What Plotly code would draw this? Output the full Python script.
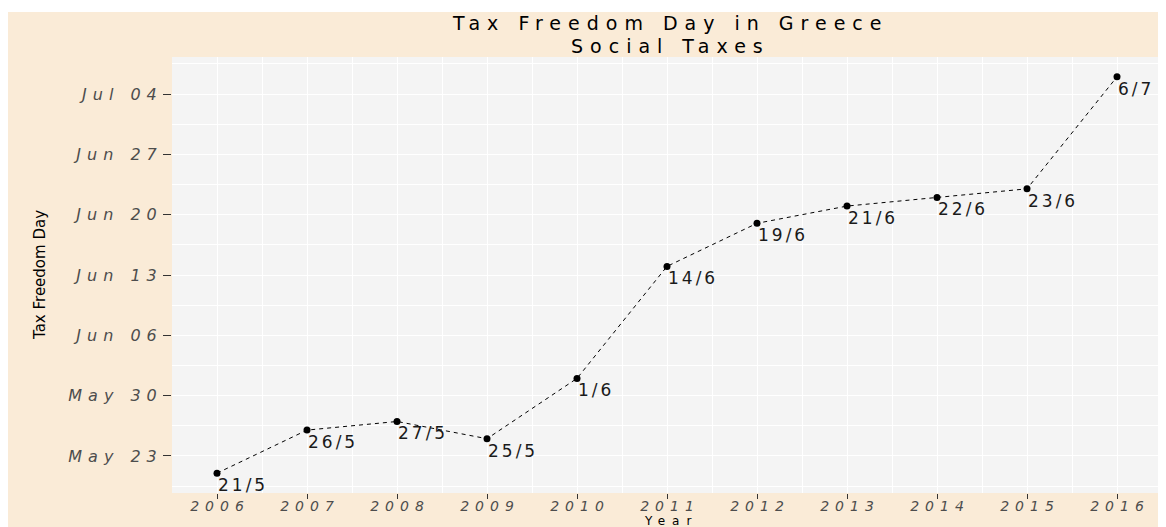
import pandas as pd
import plotly.graph_objects as go

# ---- data ----
years = [2006, 2007, 2008, 2009, 2010, 2011, 2012, 2013, 2014, 2015, 2016]
freedom_day = ["2016-05-21", "2016-05-26", "2016-05-27", "2016-05-25", "2016-06-01",
               "2016-06-14", "2016-06-19", "2016-06-21", "2016-06-22", "2016-06-23",
               "2016-07-06"]
day_labels = ["21/5", "26/5", "27/5", "25/5", "1/6", "14/6", "19/6", "21/6", "22/6", "23/6", "6/7"]
y_tick_dates = ["2016-05-23", "2016-05-30", "2016-06-06", "2016-06-13",
                "2016-06-20", "2016-06-27", "2016-07-04"]
y_tick_text = ["May 23", "May 30", "Jun 06", "Jun 13", "Jun 20", "Jun 27", "Jul 04"]
x_tick_text = [str(y) for y in years]
title_text = "Tax Freedom Day in Greece"
subtitle_text = "Social Taxes"
x_title = "Year"
y_title = "Tax Freedom Day"

# ---- styling ----
W, H = 1158, 519          # page adds an 8px body margin
ML, MR, MT, MB = 164, 4, 49, 34
BEIGE = "#FAEBD7"
PANEL = "#F4F4F4"
TICKCOL = "#4D4D4D"
FONT = "DejaVu Sans"
pw = W - ML - MR
ph = H - MT - MB


def spaced(t, px):
    # letter-spacing on all but the last glyph so the text stays centred
    return f"<span style='letter-spacing:{px}px'>{t[:-1]}</span>{t[-1]}"


def paper_y(fig_px):
    # figure pixel (from top) -> paper coordinate
    return (H - MB - fig_px) / ph


dates = pd.to_datetime(freedom_day)
ymin, ymax = dates.min(), dates.max()
span = ymax - ymin
y_range = [ymin - 0.05 * span, ymax + 0.05 * span]
xspan = years[-1] - years[0]
x_range = [years[0] - 0.05 * xspan, years[-1] + 0.05 * xspan]

ytick_ts = pd.to_datetime(y_tick_dates)
step = ytick_ts[1] - ytick_ts[0]
y_minor = [ytick_ts[0] - step / 2] + [t + step / 2 for t in ytick_ts]
x_minor = [y + 0.5 for y in [years[0] - 1] + years]

fig = go.Figure()
fig.add_trace(go.Scatter(
    x=years, y=dates, mode="lines+markers",
    line=dict(color="black", width=1, dash="4px,4px"),
    marker=dict(color="black", size=7),
    hoverinfo="skip",
    showlegend=False,
))

# point labels
for xv, yv, lab in zip(years, dates, day_labels):
    fig.add_annotation(
        x=xv, y=yv, xref="x", yref="y", text=spaced(lab, 3),
        showarrow=False, xanchor="left", yanchor="middle",
        xshift=-1, yshift=-12,
        font=dict(family=FONT, size=17, color="#1A1A1A"),
    )

# background panel shapes
fig.add_shape(type="rect", xref="paper", yref="paper", layer="below",
              x0=-(ML + 10) / pw, x1=(W + 10 - ML) / pw,
              y0=-(MB + 10) / ph, y1=paper_y(4),
              fillcolor=BEIGE, line=dict(width=0))
fig.add_shape(type="rect", xref="paper", yref="paper", layer="below",
              x0=0, x1=1, y0=0, y1=1, fillcolor=PANEL, line=dict(width=0))

# title lines
fig.add_annotation(
    x=0.5, xref="paper", y=paper_y(15), yref="paper",
    text=spaced(title_text, 7), showarrow=False,
    xanchor="center", yanchor="middle",
    font=dict(family=FONT, size=19, color="black"),
)
fig.add_annotation(
    x=0.5, xref="paper", y=paper_y(38), yref="paper",
    text=spaced(subtitle_text, 7), showarrow=False,
    xanchor="center", yanchor="middle",
    font=dict(family=FONT, size=19, color="black"),
)
# axis titles
fig.add_annotation(
    x=0.5, xref="paper", y=paper_y(512.5), yref="paper",
    text=spaced(x_title, 7), showarrow=False,
    xanchor="center", yanchor="middle",
    font=dict(family=FONT, size=12, color="black"),
)
fig.add_annotation(
    x=(32 - ML) / pw, xref="paper", y=0.5, yref="paper",
    text=y_title, textangle=-90, showarrow=False,
    xanchor="center", yanchor="middle",
    font=dict(family=FONT, size=15, color="black"),
)

fig.update_layout(
    width=W, height=H,
    margin=dict(l=ML, r=MR, t=MT, b=MB, pad=0),
    paper_bgcolor="white", plot_bgcolor=PANEL,
    font=dict(family=FONT, color="black"),
    xaxis=dict(
        range=x_range, tickmode="array", tickvals=years,
        ticktext=[spaced(t, 6) for t in x_tick_text],
        tickfont=dict(family=FONT, size=14, color=TICKCOL, style="italic"),
        ticks="outside", ticklen=5, tickcolor="#333333", tickwidth=1,
        ticklabelstandoff=-5,
        showgrid=True, gridcolor="white", gridwidth=1.3,
        minor=dict(tickvals=x_minor, showgrid=True, gridcolor="white", gridwidth=0.7, ticks=""),
        zeroline=False, showline=False,
        automargin=False,
    ),
    yaxis=dict(
        type="date", range=y_range, tickmode="array", tickvals=ytick_ts,
        ticktext=[spaced(t, 6) for t in y_tick_text],
        tickfont=dict(family=FONT, size=16, color=TICKCOL, style="italic"),
        ticks="outside", ticklen=8, tickcolor="#333333", tickwidth=1,
        ticklabelstandoff=3,
        showgrid=True, gridcolor="white", gridwidth=1.3,
        minor=dict(tickvals=y_minor, showgrid=True, gridcolor="white", gridwidth=0.7, ticks=""),
        zeroline=False, showline=False,
        automargin=False,
    ),
)

fig.write_html("out.html")
